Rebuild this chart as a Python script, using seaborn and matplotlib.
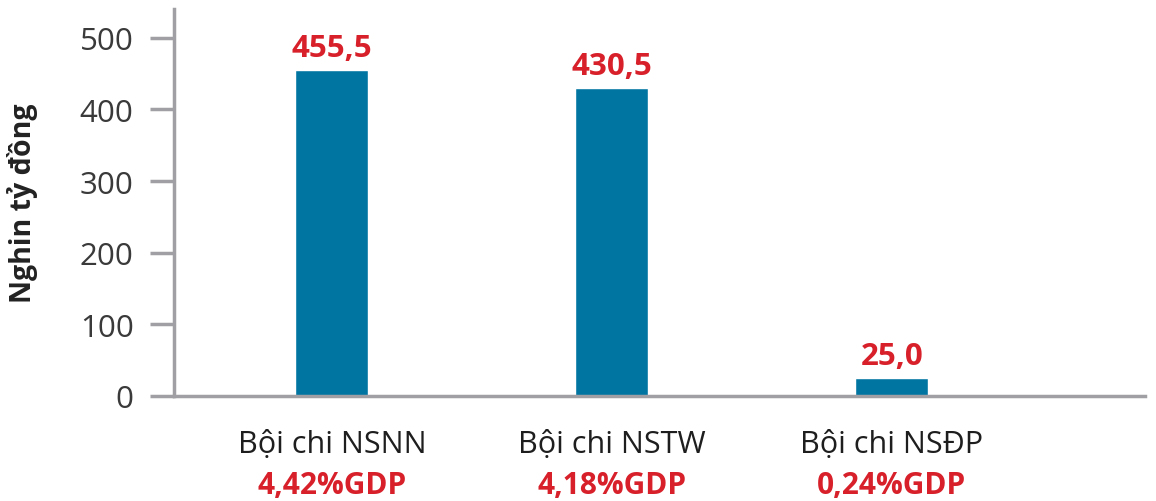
import matplotlib
matplotlib.use("Agg")
import matplotlib.pyplot as plt
import seaborn as sns
import pandas as pd

categories = ["Bội chi NSNN", "Bội chi NSTW", "Bội chi NSĐP"]
values = [455.5, 430.5, 25.0]
gdp_labels = ["4,42%GDP", "4,18%GDP", "0,24%GDP"]
value_labels = ["455,5", "430,5", "25,0"]
yticks = [0, 100, 200, 300, 400, 500]
ylabel = "Nghin tỷ đồng"

BAR = "#0075a2"
RED = "#d7202a"
GRAY = "#a0a0a4"

sns.set_theme(style="white")
plt.rcParams["font.family"] = ["Open Sans", "DejaVu Sans"]

df = pd.DataFrame({"cat": categories, "val": values})

fig = plt.figure(figsize=(11.56, 5.02), dpi=100)
ax = fig.add_axes([0.1505, 0.2092, 0.8400, 0.7708])

sns.barplot(data=df, x="cat", y="val", color=BAR, width=0.26, ax=ax, saturation=1)

ax.set_xlim(-0.564, 2.904)
ax.set_ylim(0, 540)
ax.set_yticks(yticks)
ax.set_yticklabels([str(t) for t in yticks], fontsize=22.5, color="#3a3a3a")
ax.tick_params(axis="y", length=17, width=2.5, color=GRAY, pad=12, left=True, direction="out")
ax.tick_params(axis="x", length=0, pad=24)
ax.set_xticks(range(len(categories)))
ax.set_xticklabels(categories, fontsize=22, color="#1e1e1e")

for s in ["top", "right"]:
    ax.spines[s].set_visible(False)
for s in ["left", "bottom"]:
    ax.spines[s].set_color(GRAY)
    ax.spines[s].set_linewidth(2.5)

ax.set_xlabel("")
ax.set_ylabel(ylabel, fontsize=20.5, fontweight="bold", color="#222222", labelpad=30)

ax.bar_label(ax.containers[0], labels=value_labels, padding=5, fontsize=22.5,
             fontweight="bold", color=RED)

for i, g in enumerate(gdp_labels):
    ax.annotate(g, xy=(i, 0), xycoords=("data", "axes fraction"),
                xytext=(0, -64), textcoords="offset points", ha="center", va="center",
                fontsize=21.5, fontweight="bold", color=RED)

fig.savefig("out.png", dpi=100)
